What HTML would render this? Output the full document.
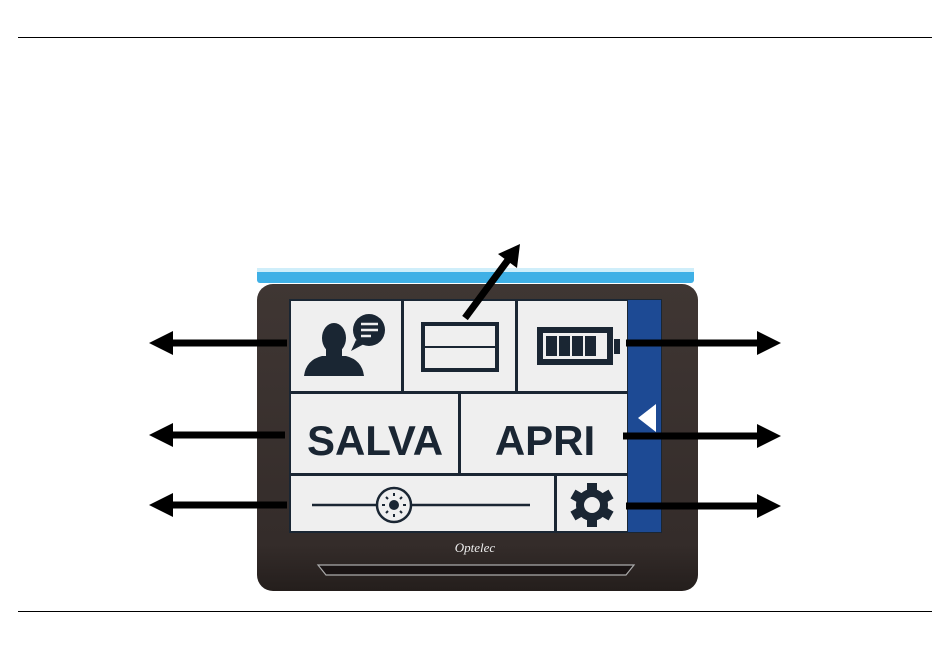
<!DOCTYPE html>
<html><head><meta charset="utf-8"><style>
html,body{margin:0;padding:0;background:#fff;}
body{width:950px;height:646px;position:relative;overflow:hidden;font-family:"Liberation Sans",sans-serif;}
</style></head><body>
<svg width="950" height="646" viewBox="0 0 950 646" xmlns="http://www.w3.org/2000/svg" style="position:absolute;left:0;top:0">
<defs>
<linearGradient id="dev" x1="0" y1="0" x2="0" y2="1"><stop offset="0" stop-color="#3f3633"/><stop offset="0.85" stop-color="#342c2a"/><stop offset="1" stop-color="#241e1c"/></linearGradient>
</defs>
<line x1="18" y1="37.5" x2="932" y2="37.5" stroke="#000" stroke-width="1"/>
<line x1="18" y1="611.5" x2="932" y2="611.5" stroke="#000" stroke-width="1"/>
<rect x="257" y="268" width="437" height="15" rx="3" fill="#3fb0e6"/>
<rect x="257" y="268" width="437" height="4" fill="#cfeefa"/>
<rect x="257" y="284" width="441" height="307" rx="16" fill="url(#dev)"/>
<path d="M318 565 L634 565 L626 575 L326 575 Z" fill="#1a1414" stroke="#aaa" stroke-width="1.2"/>
<text x="475" y="552" font-family="Liberation Serif,serif" font-size="13" fill="#eee" text-anchor="middle" font-style="italic">Optelec</text>
<rect x="289" y="299" width="373" height="234" fill="#1a2633"/>
<rect x="628" y="300" width="33" height="232" fill="#1d4a94"/>
<polygon points="638,418 656,404 656,432" fill="#fff"/>
<g fill="#efefef">
<rect x="291" y="301" width="110" height="90"/>
<rect x="404" y="301" width="111" height="90"/>
<rect x="518" y="301" width="109" height="90"/>
<rect x="291" y="394" width="167" height="79"/>
<rect x="461" y="394" width="166" height="79"/>
<rect x="291" y="476" width="263" height="55"/>
<rect x="557" y="476" width="70" height="55"/>
</g>
<g fill="#1a2633">
<ellipse cx="334" cy="338" rx="12" ry="15"/>
<path d="M304 376 Q306 360 322 356 L346 356 Q362 360 364 376 Z"/>
<rect x="326" y="346" width="16" height="14"/>
<circle cx="369" cy="330" r="16"/>
<path d="M356 340 L351 351 L364 344 Z"/>
</g>
<g stroke="#efefef" stroke-width="2.5"><line x1="361" y1="324" x2="378" y2="324"/><line x1="361" y1="330" x2="378" y2="330"/><line x1="361" y1="336" x2="371" y2="336"/></g>
<rect x="423" y="324" width="74" height="46" fill="none" stroke="#1a2633" stroke-width="4"/>
<line x1="423" y1="347" x2="497" y2="347" stroke="#1a2633" stroke-width="2"/>
<rect x="537" y="327" width="76" height="38" fill="#1a2633"/>
<rect x="543" y="333" width="64" height="26" fill="#efefef"/>
<rect x="614" y="339" width="6" height="15" fill="#1a2633"/>
<g fill="#1a2633"><rect x="546" y="336" width="11" height="20"/><rect x="559" y="336" width="11" height="20"/><rect x="572" y="336" width="11" height="20"/><rect x="585" y="336" width="11" height="20"/></g>
<text x="375" y="455" font-size="42" font-weight="bold" fill="#1a2633" text-anchor="middle">SALVA</text>
<text x="545" y="455" font-size="42" font-weight="bold" fill="#1a2633" text-anchor="middle">APRI</text>
<line x1="312" y1="505" x2="530" y2="505" stroke="#1a2633" stroke-width="2.5"/>
<circle cx="394" cy="505" r="17" fill="#efefef" stroke="#1a2633" stroke-width="2.5"/>
<circle cx="394" cy="505" r="5" fill="#1a2633"/>
<g stroke="#1a2633" stroke-width="2"><line x1="394" y1="493" x2="394" y2="496"/><line x1="394" y1="514" x2="394" y2="517"/><line x1="382" y1="505" x2="385" y2="505"/><line x1="403" y1="505" x2="406" y2="505"/><line x1="386" y1="497" x2="388" y2="499"/><line x1="400" y1="511" x2="402" y2="513"/><line x1="402" y1="497" x2="400" y2="499"/><line x1="388" y1="511" x2="386" y2="513"/></g>
<g fill="#1a2633" transform="translate(592,505)">
<circle r="16"/>
<g><rect x="-5" y="-22" width="10" height="44"/><rect x="-5" y="-22" width="10" height="44" transform="rotate(60)"/><rect x="-5" y="-22" width="10" height="44" transform="rotate(120)"/></g>
<circle r="8" fill="#efefef"/>
</g>
<g stroke="#000" stroke-width="7">
<line x1="287" y1="343" x2="170" y2="343"/>
<line x1="285" y1="435" x2="170" y2="435"/>
<line x1="287" y1="505" x2="170" y2="505"/>
<line x1="626" y1="343" x2="760" y2="343"/>
<line x1="623" y1="436" x2="760" y2="436"/>
<line x1="626" y1="506" x2="760" y2="506"/>
<line x1="465" y1="318" x2="508" y2="260"/>
</g>
<g fill="#000">
<polygon points="149,343 173,331 173,355"/>
<polygon points="149,435 173,423 173,447"/>
<polygon points="149,505 173,493 173,517"/>
<polygon points="781,343 757,331 757,355"/>
<polygon points="781,436 757,424 757,448"/>
<polygon points="781,506 757,494 757,518"/>
<polygon points="520,244 498,254 517,268"/>
</g>
</svg>
</body></html>
